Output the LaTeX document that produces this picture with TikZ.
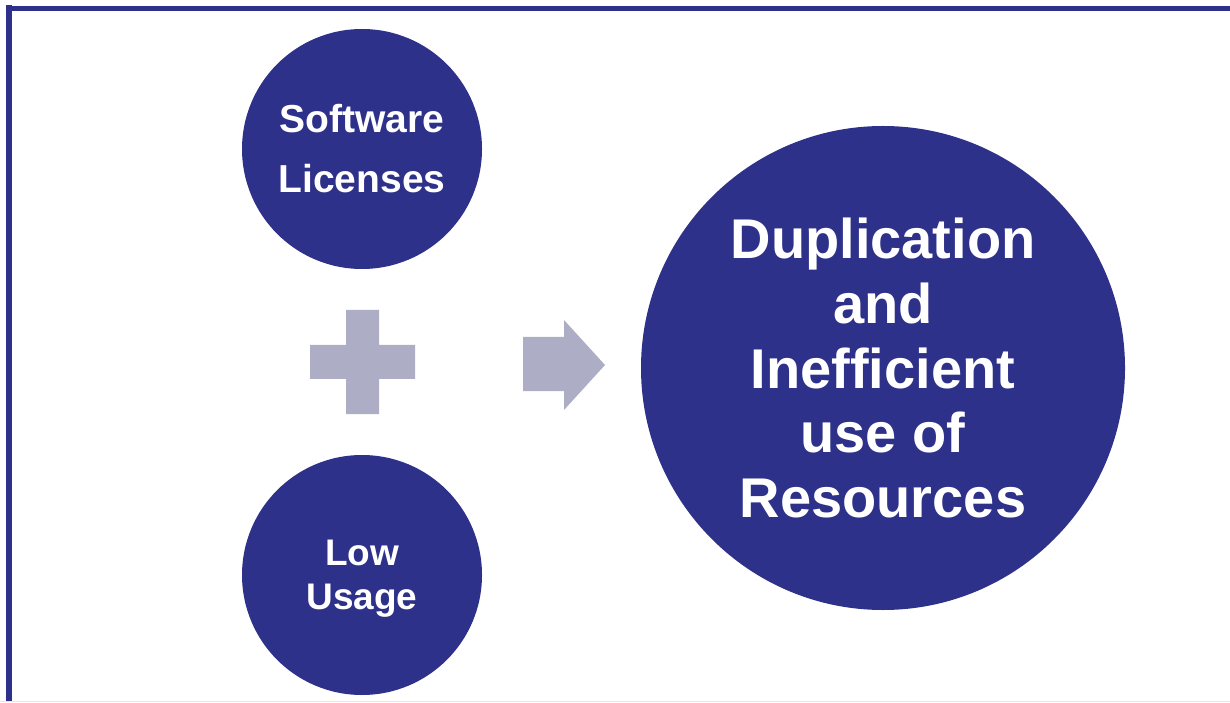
\documentclass[tikz,border=0pt]{standalone}
\usepackage{fontspec}
\setmainfont{Liberation Sans}
\definecolor{navy}{HTML}{2E3189}
\definecolor{lilacgrey}{HTML}{ADADC6}
\definecolor{edgegrey}{HTML}{E6E6E6}
\begin{document}
\begin{tikzpicture}[x=1pt,y=1pt,
  bubble/.style={circle,fill=navy,text=white,inner sep=0pt,align=center,font=\bfseries},
  frameline/.style={navy,line width=5.5pt},
  symbolfill/.style={fill=lilacgrey}]
  \useasboundingbox (0,0) rectangle (1230,702);
  % frame
  \draw[frameline] (9,696.5) -- (9,0);
  \draw[frameline] (6.25,693.5) -- (1230,693.5);
  \draw[edgegrey,line width=1pt] (0,0.5) -- (1230,0.5);
  % circles
  \node[bubble,minimum size=240pt,font=\bfseries\fontsize{39}{60}\selectfont] (soft) at (362,553) {Software\\Licenses};
  \node[bubble,minimum size=240pt,font=\bfseries\fontsize{37}{44}\selectfont] (low) at (362,127) {};
  \node[text=white,align=center,font=\bfseries\fontsize{37}{44}\selectfont] (lowtext) at ([yshift=-4pt]low.center) {Low\\Usage};
  \node[bubble,minimum size=484pt,font=\bfseries\fontsize{56}{64.75}\selectfont] (dup) at (883,334) {Duplication\\and\\Inefficient\\use of\\Resources};
  % plus sign
  \fill[symbolfill] (346,392) -- (379,392) -- (379,357) -- (415,357) -- (415,323)
    -- (379,323) -- (379,288) -- (346,288) -- (346,323) -- (310,323) -- (310,357)
    -- (346,357) -- cycle;
  % block arrow
  \fill[symbolfill] (523,365) -- (564,365) -- (564,382) -- (605,337) -- (564,292)
    -- (564,311) -- (523,311) -- cycle;
\end{tikzpicture}
\end{document}
